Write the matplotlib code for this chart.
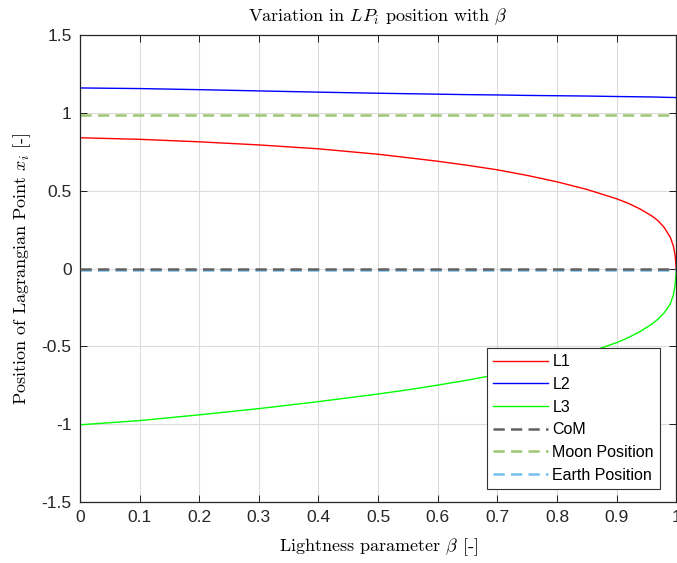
import numpy as np
import matplotlib
matplotlib.use('Agg')
from matplotlib import pyplot as plt

plt.rcParams['mathtext.fontset'] = 'cm'

# values
beta = [0, 0.1, 0.2, 0.3, 0.4, 0.5, 0.55, 0.6, 0.65, 0.7, 0.75, 0.8, 0.85, 0.9,
        0.92, 0.94, 0.96, 0.97, 0.98, 0.99, 0.995, 0.998, 1.0]
L1 = [0.840, 0.830, 0.814, 0.794, 0.769, 0.734, 0.712, 0.689, 0.663, 0.634, 0.598, 0.557,
      0.508, 0.448, 0.418, 0.381, 0.335, 0.305, 0.262, 0.200, 0.145, 0.085, -0.010]
L2 = [1.160, 1.156, 1.149, 1.141, 1.133, 1.126, 1.123, 1.120, 1.117, 1.115, 1.112, 1.110,
      1.108, 1.105, 1.104, 1.103, 1.102, 1.101, 1.100, 1.099, 1.099, 1.098, 1.098]
L3 = [-1.004, -0.977, -0.940, -0.900, -0.855, -0.806, -0.779, -0.749, -0.717, -0.681, -0.642,
      -0.597, -0.543, -0.476, -0.443, -0.403, -0.354, -0.323, -0.283, -0.227, -0.170, -0.105,
      -0.010]
com = 0.0
moon = 0.988
earth = -0.012

xticks = [0, 0.1, 0.2, 0.3, 0.4, 0.5, 0.6, 0.7, 0.8, 0.9, 1]
xlabels = ['0', '0.1', '0.2', '0.3', '0.4', '0.5', '0.6', '0.7', '0.8', '0.9', '1']
yticks = [-1.5, -1, -0.5, 0, 0.5, 1, 1.5]
ylabels = ['-1.5', '-1', '-0.5', '0', '0.5', '1', '1.5']

fig = plt.figure(figsize=(6.77, 5.63), dpi=100)
ax = fig.add_axes([0.118, 0.1083, 0.881, 0.8295])

ax.plot(beta, L1, color=(1, 0, 0), lw=1.0, label='L1')
ax.plot(beta, L2, color=(0, 0, 1), lw=1.0, label='L2')
ax.plot(beta, L3, color=(0, 1, 0), lw=1.0, label='L3')
ax.plot([0, 1], [earth, earth], '--', color=(0.45, 0.75, 0.93), lw=1.8, dashes=(4.5, 2.5), zorder=2)
ax.plot([0, 1], [com, com], '--', color=(0.38, 0.38, 0.38), lw=1.8, dashes=(4.5, 2.5), zorder=3)
ax.plot([0, 1], [moon, moon], '--', color=(0.62, 0.78, 0.45), lw=1.8, dashes=(4.5, 2.5))

# legend handles in the reference order
h = ax.get_lines()
leg = ax.legend([h[0], h[1], h[2], h[4], h[5], h[3]],
                ['L1', 'L2', 'L3', 'CoM', 'Moon Position', 'Earth Position'],
                loc='lower right', bbox_to_anchor=(0.973, 0.028), borderaxespad=0,
                fancybox=False, framealpha=1, edgecolor='#333333', handlelength=3.4,
                handletextpad=0.3, labelspacing=0.48, borderpad=0.4,
                prop={'family': 'Liberation Sans', 'size': 11.5})
leg.get_frame().set_linewidth(0.8)

ax.set_xlim(0, 1)
ax.set_ylim(-1.5, 1.5)
ax.set_xticks(xticks)
ax.set_xticklabels(xlabels, family='Liberation Sans', fontsize=12.5, color='#262626')
ax.set_yticks(yticks)
ax.set_yticklabels(ylabels, family='Liberation Sans', fontsize=12.5, color='#262626')
ax.tick_params(direction='in', length=5, width=0.6, top=True, right=True, pad=6)
ax.grid(True, color='#dcdcdc', lw=0.8)
ax.set_axisbelow(True)
for s in ax.spines.values():
    s.set_linewidth(0.9)
    s.set_color('#262626')

ax.set_title(r'Variation in $LP_i$ position with $\beta$', family='cmr10', fontsize=13, pad=10)
ax.set_xlabel(r'Lightness parameter $\beta$ [-]', family='cmr10', fontsize=13, labelpad=8)
ax.set_ylabel(r'Position of Lagrangian Point $x_i$ [-]', family='cmr10', fontsize=13, labelpad=6)

fig.savefig('out.png', dpi=100)
